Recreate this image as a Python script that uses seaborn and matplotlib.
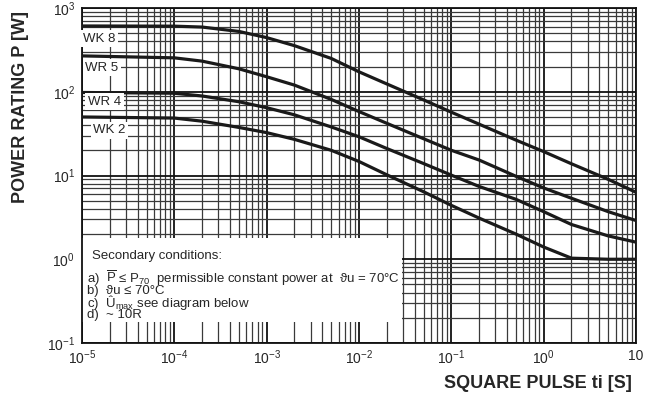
import numpy as np
import pandas as pd
import matplotlib
matplotlib.use('Agg')
import matplotlib.pyplot as plt
import seaborn as sns
from matplotlib.ticker import LogLocator, NullFormatter, FixedLocator
from matplotlib.patches import Rectangle

# pulse duration ti [s]
t_pulse = [1e-5, 1e-4, 2e-4, 5e-4, 1e-3, 2e-3, 5e-3, 1e-2, 2e-2, 5e-2,
           0.1, 0.2, 0.5, 1, 2, 5, 10]
# power rating P [W] per resistor type
p_wk8 = [610, 607, 592, 525, 443, 355, 250, 173, 124, 80, 57, 41, 26.5, 19.3, 13.8, 9.0, 6.3]
p_wr5 = [268, 254, 232, 188, 151, 120, 81, 58, 42, 27.5, 20, 15.3, 9.8, 7.1, 5.35, 3.7, 2.9]
p_wr4 = [98, 96, 89, 76, 64.5, 53, 38, 29, 21, 13.9, 10.1, 7.4, 5.2, 3.7, 2.6, 1.9, 1.6]
p_wk2 = [50, 48.5, 44.5, 37.5, 32.5, 27, 20, 14.7, 10.2, 6.4, 4.4, 3.1, 2.0, 1.4, 1.03, 1.0, 1.0]
series = ['WK 8', 'WR 5', 'WR 4', 'WK 2']

x_ticks = [1e-5, 1e-4, 1e-3, 1e-2, 1e-1, 1, 10]
x_ticklabels = ['$10^{-5}$', '$10^{-4}$', '$10^{-3}$', '$10^{-2}$', '$10^{-1}$', '$10^{0}$', '10']
y_ticks = [0.1, 1, 10, 100, 1000]
y_ticklabels = ['$10^{-1}$', '$10^{0}$', '$10^{1}$', '$10^{2}$', '$10^{3}$']

df = pd.concat([
    pd.DataFrame({'t': t_pulse, 'P': vals, 'type': name})
    for name, vals in zip(series, [p_wk8, p_wr5, p_wr4, p_wk2])
])

sns.set_style('white')
plt.rcParams['font.family'] = ['Liberation Sans', 'DejaVu Sans']
plt.rcParams['mathtext.fontset'] = 'custom'
plt.rcParams['mathtext.rm'] = 'Liberation Sans'
plt.rcParams['mathtext.it'] = 'Liberation Sans:italic'
plt.rcParams['mathtext.bf'] = 'Liberation Sans:bold'

fig = plt.figure(figsize=(6.47, 3.96), dpi=100)
ax = fig.add_axes([82/647, 1-343/396, (636-82)/647, (343-8)/396])

sns.lineplot(data=df, x='t', y='P', hue='type', palette={s: '#1a1a1a' for s in series},
             linewidth=2.3, legend=False, sort=False, ax=ax, zorder=5)

ax.set_xscale('log')
ax.set_yscale('log')
ax.set_xlim(1e-5, 10)
ax.set_ylim(0.1, 1000)
ax.set_xlabel('')
ax.set_ylabel('')

ax.xaxis.set_major_locator(FixedLocator(x_ticks))
ax.yaxis.set_major_locator(FixedLocator(y_ticks))
ax.xaxis.set_minor_locator(LogLocator(base=10, subs=np.arange(2, 10), numticks=30))
ax.yaxis.set_minor_locator(LogLocator(base=10, subs=np.arange(2, 10), numticks=30))
ax.xaxis.set_minor_formatter(NullFormatter())
ax.yaxis.set_minor_formatter(NullFormatter())
ax.set_xticklabels(x_ticklabels, fontsize=10)
ax.set_yticklabels(y_ticklabels, fontsize=10)
ax.tick_params(which='both', length=0)
ax.tick_params(axis='x', pad=4)
ax.tick_params(axis='y', pad=5)

ax.set_axisbelow(True)
ax.grid(which='major', color='#111111', lw=1.3)
ax.grid(which='minor', color='#3a3a3a', lw=0.9)
for sp in ax.spines.values():
    sp.set_color('#111111')
    sp.set_linewidth(1.3)

# white area holding the notes
ax.add_patch(Rectangle((1e-5, 0.18), 0.0295 - 1e-5, 1.8 - 0.18,
                       facecolor='white', edgecolor='none', zorder=1))

# curve labels
label_pos = {'WK 8': (1.03e-5, 428), 'WR 5': (1.08e-5, 193),
             'WR 4': (1.16e-5, 76), 'WK 2': (1.32e-5, 34.8)}
for name, (lx, ly) in label_pos.items():
    ax.text(lx, ly, name, fontsize=9.5, va='center', ha='left', zorder=6,
            bbox=dict(facecolor='white', edgecolor='none', pad=1.8))

ax.text(0.018, 0.26, 'Secondary conditions:', transform=ax.transAxes,
        fontsize=9.5, va='center', ha='left', zorder=6)
notes = '\n'.join([
    r'a)  $\overline{\mathrm{P}}$ ≤ P$_{70}$  permissible constant power at  ϑu = 70°C',
    'b)  ϑu ≤ 70°C',
    r'c)  Û$\mathregular{_{max}}$ see diagram below',
    'd)  ~ 10R',
])
ax.text(0.009, 0.222, notes, transform=ax.transAxes, fontsize=9.5, va='top', ha='left',
        linespacing=0.7, zorder=6)

fig.text(21/647, 1-107/396, 'POWER RATING P [W]', rotation=90, fontsize=13,
         fontweight='bold', ha='center', va='center')
fig.text(632/647, 1-384/396, 'SQUARE PULSE ti [S]', fontsize=13,
         fontweight='bold', ha='right', va='center')

fig.savefig('out.png', dpi=100)
